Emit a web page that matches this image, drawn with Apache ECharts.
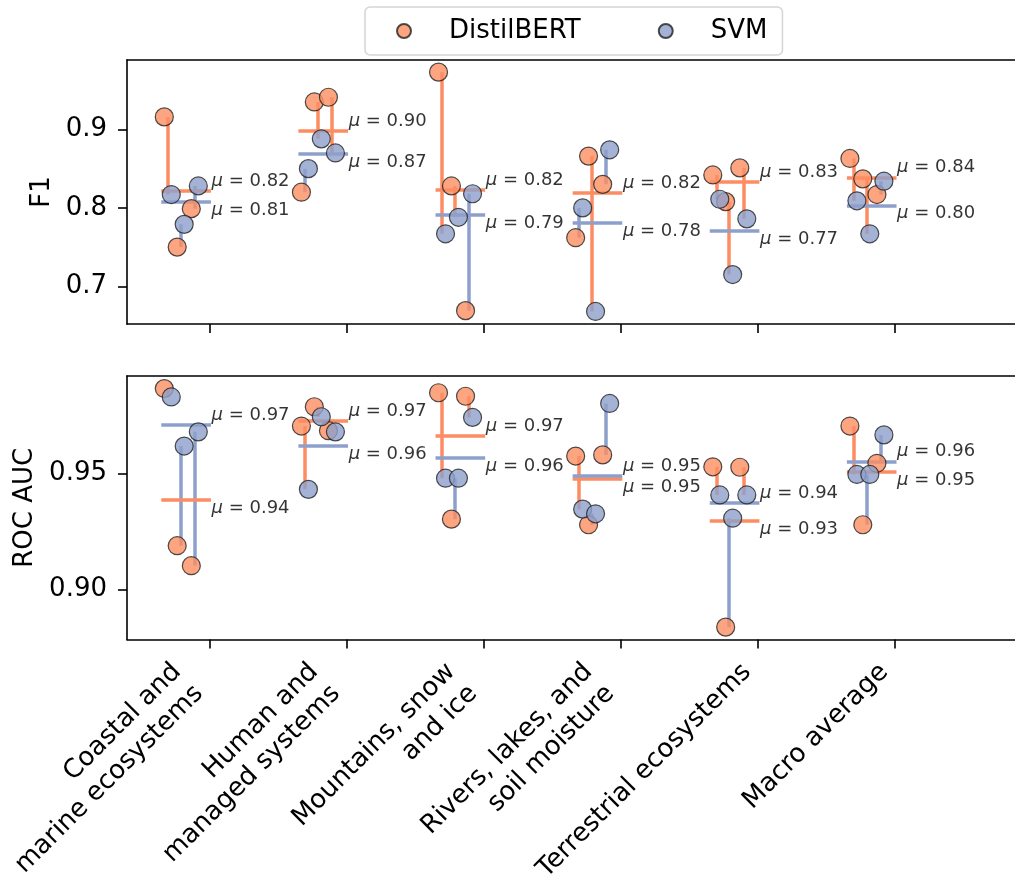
<!DOCTYPE html>
<html>
<head>
<meta charset="utf-8">
<script src="https://cdn.jsdelivr.net/npm/echarts@6/dist/echarts.min.js"></script>
<style>
html, body { margin: 0; padding: 0; background: #fff; }
#chart { width: 1015px; height: 884px; }
</style>
</head>
<body>
<div id="chart"></div>
<script>
// ---------------- data ----------------
const categories = [
  'Coastal and\nmarine ecosystems',
  'Human and\nmanaged systems',
  'Mountains, snow\nand ice',
  'Rivers, lakes, and\nsoil moisture',
  'Terrestrial ecosystems',
  'Macro average'
];
const models = ['DistilBERT', 'SVM'];

// three paired runs per category (run 1, run 2, run 3)
const f1DistilBERT = [
  [0.916, 0.750, 0.799],
  [0.820, 0.935, 0.941],
  [0.973, 0.828, 0.669],
  [0.762, 0.866, 0.830],
  [0.842, 0.808, 0.851],
  [0.863, 0.837, 0.817]
];
const f1SVM = [
  [0.817, 0.779, 0.828],
  [0.850, 0.888, 0.870],
  [0.767, 0.788, 0.818],
  [0.800, 0.668, 0.874],
  [0.811, 0.715, 0.786],
  [0.809, 0.767, 0.834]
];
const aucDistilBERT = [
  [0.9864, 0.9189, 0.9103],
  [0.9703, 0.9786, 0.9683],
  [0.9846, 0.9303, 0.9831],
  [0.9574, 0.9279, 0.9579],
  [0.9528, 0.8839, 0.9526],
  [0.9703, 0.9279, 0.9543]
];
const aucSVM = [
  [0.9828, 0.9617, 0.9678],
  [0.9431, 0.9743, 0.9678],
  [0.9479, 0.9479, 0.9740],
  [0.9346, 0.9326, 0.9800],
  [0.9407, 0.9307, 0.9407],
  [0.9495, 0.9495, 0.9665]
];
const f1Ticks = [0.7, 0.8, 0.9];
const aucTicks = [0.90, 0.95];
// horizontal jitter of the three runs, in category units
const runJitter = [-0.328, -0.234, -0.131];
const svmShift = 0.051;

// ---------------- styling ----------------
const FONT = 'DejaVu Sans';
const COLORS = { DistilBERT: '#fc8d62', SVM: '#8da0cb' };
const xTicks = categories.map((_, i) => i);
const X_MIN = -0.6, X_MAX = 5.876;

function mean(a) { return a.reduce((s, v) => s + v, 0) / a.length; }

function panelSeries(p, aVals, bVals) {
  const xi = p * 2, yi = p;
  const pairLines = [], meanLines = [], aPts = [], bPts = [], labels = [];
  categories.forEach((_, i) => {
    aVals[i].forEach((a, k) => {
      const b = bVals[i][k];
      const x = i + runJitter[k];
      aPts.push([x, a]);
      bPts.push([x + svmShift, b]);
      pairLines.push({
        coords: [[x + svmShift / 2, a], [x + svmShift / 2, b]],
        lineStyle: { color: a >= b ? COLORS.DistilBERT : COLORS.SVM }
      });
    });
    const ma = mean(aVals[i]), mb = mean(bVals[i]);
    meanLines.push({ coords: [[i - 0.35, ma], [i + 0.012, ma]], lineStyle: { color: COLORS.DistilBERT } });
    meanLines.push({ coords: [[i - 0.35, mb], [i + 0.012, mb]], lineStyle: { color: COLORS.SVM } });
    labels.push({ value: [i + 0.02, ma], label: { verticalAlign: ma > mb ? 'bottom' : 'top' } });
    labels.push({ value: [i + 0.02, mb], label: { verticalAlign: mb >= ma ? 'bottom' : 'top' } });
  });
  return [
    { type: 'lines', coordinateSystem: 'cartesian2d', xAxisIndex: xi, yAxisIndex: yi, z: 2, silent: true,
      lineStyle: { width: 3.5, opacity: 1 }, data: pairLines },
    { type: 'lines', coordinateSystem: 'cartesian2d', xAxisIndex: xi, yAxisIndex: yi, z: 3, silent: true,
      lineStyle: { width: 3.5, opacity: 1 }, data: meanLines },
    { type: 'scatter', name: 'DistilBERT', xAxisIndex: xi, yAxisIndex: yi, z: 4, symbolSize: 18,
      itemStyle: { color: COLORS.DistilBERT, opacity: 0.8, borderColor: '#222', borderWidth: 1.2 }, data: aPts },
    { type: 'scatter', name: 'SVM', xAxisIndex: xi, yAxisIndex: yi, z: 4, symbolSize: 18,
      itemStyle: { color: COLORS.SVM, opacity: 0.8, borderColor: '#222', borderWidth: 1.2 }, data: bPts },
    { type: 'scatter', name: 'means', xAxisIndex: xi, yAxisIndex: yi, z: 5, symbolSize: 1, silent: true,
      itemStyle: { color: 'rgba(0,0,0,0)' },
      label: {
        show: true, position: [0, 0], align: 'left', color: '#000', fontFamily: FONT, fontSize: 18,
        formatter: (prm) => '{m|μ} = ' + prm.value[1].toFixed(2),
        rich: { m: { fontStyle: 'italic', fontFamily: FONT, fontSize: 18, color: '#000' } }
      },
      data: labels }
  ];
}

const axisLineStyle = { color: '#000', width: 1.6 };

function xAxes(grid, withLabels) {
  return [
    { gridIndex: grid, type: 'value', min: X_MIN, max: X_MAX, position: 'bottom',
      axisLine: { show: true, onZero: false, lineStyle: axisLineStyle },
      axisTick: { show: true, length: 9, lineStyle: axisLineStyle, customValues: xTicks },
      splitLine: { show: false },
      axisLabel: withLabels ? {
        show: true, customValues: xTicks, rotate: 45, margin: 18, color: '#000',
        fontFamily: FONT, fontSize: 26, lineHeight: 31, hideOverlap: false,
        formatter: (v) => {
          const lines = categories[Math.round(v)].split('\n');
          const key = lines.length > 1 ? 'two' : 'one';
          return lines.map(l => '{' + key + '|' + l + '}').join('\n');
        },
        rich: {
          one: { fontFamily: FONT, fontSize: 26, lineHeight: 31, color: '#000', padding: [0, 15, 0, 0] },
          two: { fontFamily: FONT, fontSize: 26, lineHeight: 31, color: '#000', padding: [0, 30, 0, 0] }
        }
      } : { show: false } },
    { gridIndex: grid, type: 'value', min: X_MIN, max: X_MAX, position: 'top',
      axisLine: { show: true, onZero: false, lineStyle: axisLineStyle },
      axisTick: { show: false }, axisLabel: { show: false }, splitLine: { show: false } }
  ];
}

function yAxis(grid, min, max, ticks, digits, name, gap) {
  return {
    gridIndex: grid, type: 'value', min: min, max: max,
    name: name, nameLocation: 'middle', nameGap: gap,
    nameTextStyle: { fontFamily: FONT, fontSize: 26, color: '#000' },
    axisLine: { show: true, onZero: false, lineStyle: axisLineStyle },
    axisTick: { show: true, length: 9, lineStyle: axisLineStyle, customValues: ticks },
    axisLabel: { show: true, customValues: ticks, margin: 20, color: '#000', fontFamily: FONT, fontSize: 26,
      formatter: (v) => v.toFixed(digits) },
    splitLine: { show: false }
  };
}

const chart = echarts.init(document.getElementById('chart'), null, { renderer: 'canvas' });
chart.setOption({
  animation: false,
  backgroundColor: '#fff',
  legend: {
    data: models, left: 365, top: 7, padding: [11, 15, 11, 31],
    itemWidth: 14, itemHeight: 14, itemGap: 77, icon: 'circle',
    borderColor: '#d5d5d5', borderWidth: 1.5, borderRadius: 5, backgroundColor: '#fff',
    textStyle: { fontFamily: FONT, fontSize: 26, color: '#000', padding: [0, 0, 0, 33] }
  },
  grid: [
    { left: 127, top: 60, right: 0, height: 264, outerBoundsMode: 'none' },
    { left: 127, top: 376, right: 0, height: 263.5, outerBoundsMode: 'none' }
  ],
  xAxis: [...xAxes(0, false), ...xAxes(1, true)],
  yAxis: [
    yAxis(0, 0.652, 0.9885, f1Ticks, 1, 'F1', 71),
    yAxis(1, 0.8786, 0.9918, aucTicks, 2, 'ROC AUC', 89)
  ],
  series: [
    ...panelSeries(0, f1DistilBERT, f1SVM),
    ...panelSeries(1, aucDistilBERT, aucSVM)
  ]
});
</script>
</body>
</html>
